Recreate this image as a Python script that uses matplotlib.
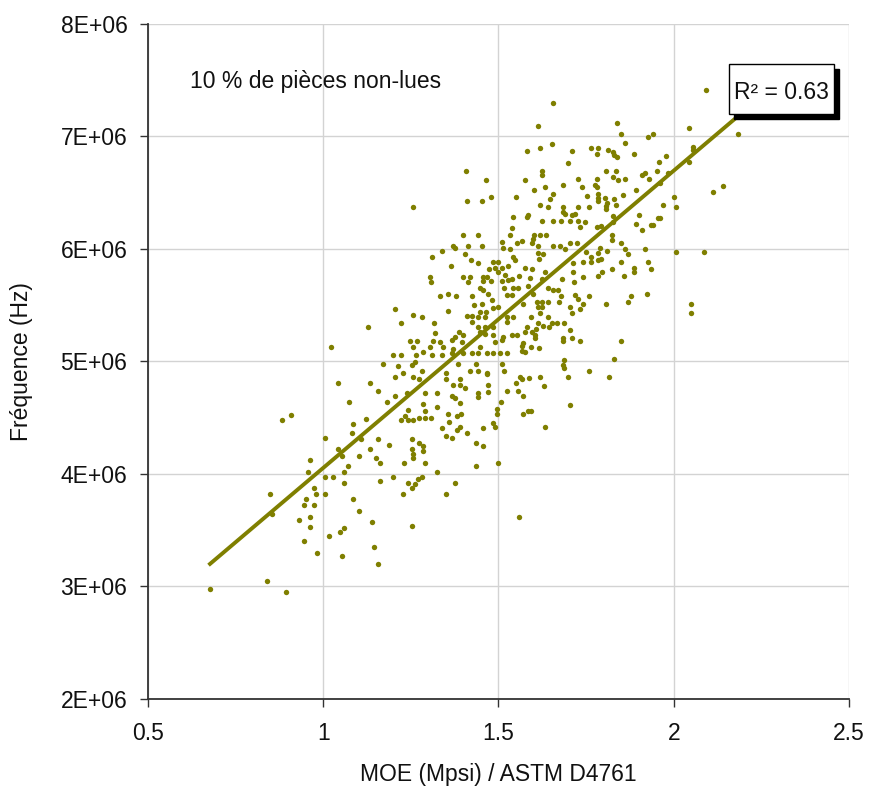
import matplotlib
matplotlib.use('Agg')
import matplotlib.pyplot as plt
from matplotlib.patches import Rectangle
from matplotlib.ticker import FuncFormatter, MultipleLocator
import numpy as np

plt.rcParams['font.family'] = ['Liberation Sans', 'DejaVu Sans']

# MOE (Mpsi)
moe = [
    # low end
    1.129, 1.021, 1.171, 1.043, 1.134, 1.155, 1.074, 1.182,
    0.881, 0.908, 1.123, 1.086, 1.081, 1.005, 1.155, 1.188,
    1.108, 1.043, 1.133, 1.053, 1.102, 1.150, 1.162, 0.962,
    1.070, 0.956, 1.058, 1.005, 1.027, 1.058, 1.162, 0.849,
    0.974, 0.979, 1.005, 0.951, 1.085, 0.853, 0.946, 0.974,
    1.102, 0.962, 0.930, 1.139, 0.962, 1.059, 1.048, 1.016,
    0.946, 1.145, 0.983, 1.053, 1.156, 0.677, 0.839, 0.893,
    # middle, upper half
    1.257, 1.464, 1.576, 1.409, 1.452, 1.479, 1.549, 1.542,
    1.580, 1.538, 1.398, 1.441, 1.533, 1.511, 1.552, 1.566,
    1.339, 1.369, 1.376, 1.414, 1.452, 1.514, 1.533, 1.311,
    1.404, 1.421, 1.441, 1.483, 1.500, 1.542, 1.547, 1.364,
    1.490, 1.509, 1.528, 1.576, 1.473, 1.500, 1.519, 1.305,
    1.398, 1.419, 1.456, 1.466, 1.559, 1.307, 1.414, 1.456,
    1.479, 1.509, 1.528, 1.538, 1.447, 1.456, 1.516, 1.540,
    1.557, 1.583, 1.333, 1.357, 1.379, 1.424, 1.469, 1.523,
    1.538, 1.481, 1.431, 1.452, 1.500, 1.571, 1.204, 1.357,
    1.447, 1.464, 1.485, 1.257, 1.281, 1.411, 1.424, 1.442,
    1.462, 1.523, 1.542, 1.221, 1.317, 1.424, 1.523, 1.442,
    1.462, 1.485, 1.580, 1.319, 1.387, 1.376, 1.400, 1.447,
    1.462, 1.485, 1.514, 1.538, 1.552, 1.576, 1.247, 1.268,
    1.314, 1.333, 1.366, 1.395, 1.490, 1.509, 1.571, 1.257,
    1.305, 1.343, 1.371, 1.447, 1.200, 1.221, 1.265, 1.285,
    1.309, 1.338, 1.366, 1.400, 1.424, 1.442, 1.466, 1.485,
    1.504, 1.523, 1.566, 1.214, 1.252, 1.262, 1.385, 1.436,
    1.509, 1.228, 1.281, 1.350, 1.419, 1.442, 1.468, 1.516,
    1.561, 1.407,
    # middle, lower half
    1.205, 1.257, 1.274, 1.350, 1.390, 1.468, 1.371, 1.390,
    1.404, 1.471, 1.550, 1.566, 1.205, 1.238, 1.290, 1.324,
    1.366, 1.376, 1.441, 1.441, 1.471, 1.523, 1.557, 1.571,
    1.285, 1.290, 1.390, 1.506, 1.324, 1.243, 1.495, 1.233,
    1.221, 1.243, 1.257, 1.274, 1.290, 1.307, 1.357, 1.382,
    1.393, 1.495, 1.571, 1.585, 1.360, 1.485, 1.490, 1.390,
    1.338, 1.456, 1.382, 1.409, 1.350, 1.366, 1.252, 1.274,
    1.285, 1.436, 1.456, 1.252, 1.285, 1.257, 1.257, 1.230,
    1.290, 1.436, 1.500, 1.324, 1.200, 1.281, 1.271, 1.243,
    1.262, 1.376, 1.252, 1.227, 1.350, 1.559, 1.252,
    # upper right
    1.656, 1.614, 1.839, 1.850, 1.926, 1.942, 1.861, 1.580,
    1.618, 1.652, 1.711, 1.764, 1.785, 1.813, 1.826, 1.780,
    1.830, 1.839, 1.888, 1.978, 1.959, 1.699, 1.625, 1.625,
    1.807, 1.834, 1.918, 1.909, 1.951, 1.827, 1.728, 1.780,
    1.840, 1.861, 1.929, 1.683, 1.775, 1.782, 1.634, 1.737,
    1.602, 1.656, 1.785, 1.892, 1.854, 1.753, 1.647, 1.785,
    1.804, 1.830, 1.811, 1.785, 1.618, 1.807, 1.835, 1.968,
    1.640, 1.683, 1.726, 1.758, 1.807, 1.683, 1.718, 1.690,
    1.710, 1.585, 1.902, 1.827, 1.623, 1.656, 1.678, 1.704,
    1.728, 1.956, 1.747, 1.827, 1.892, 1.934, 1.942, 1.733,
    1.792, 1.782, 1.909, 1.602, 1.618, 1.636, 1.823, 1.599,
    1.823, 1.597, 1.704, 1.723, 1.850, 1.614, 1.656, 1.675,
    1.690, 1.790, 1.861, 1.918, 1.614, 1.628, 1.751, 1.785,
    1.809, 1.870, 1.616, 1.764, 1.792, 1.713, 1.742, 1.764,
    1.783, 1.850, 1.926, 1.597, 1.823, 1.888, 1.935, 1.633,
    1.713, 1.794, 1.888, 1.859,
    # lower right
    1.742, 1.785, 1.680, 1.715, 1.590, 1.623, 1.642, 1.656,
    1.671, 1.599, 1.678, 1.718, 1.728, 1.758, 1.877, 1.925,
    1.674, 1.642, 1.609, 1.623, 1.742, 1.807, 1.870, 1.614,
    1.623, 1.704, 1.733, 1.618, 1.711, 1.592, 1.640, 1.614,
    1.652, 1.666, 1.688, 1.626, 1.645, 1.607, 1.595, 1.704,
    1.604, 1.604, 1.685, 1.711, 1.683, 1.733, 1.850, 1.566,
    1.592, 1.616, 1.576, 1.688, 1.685, 1.688, 1.830, 1.758,
    1.587, 1.618, 1.699, 1.816, 1.630, 1.704, 1.592, 1.634,
    # far right
    2.092, 2.044, 2.182, 2.054, 2.054, 2.044, 1.985, 1.961,
    2.113, 2.140, 2.001, 2.006, 1.961, 2.006, 2.086, 2.049,
    2.049,
]

# Fréquence, in millions of Hz, same order as moe
freq_m = [
    5.30, 5.13, 4.98, 4.81, 4.81, 4.74, 4.64, 4.64,
    4.48, 4.52, 4.49, 4.44, 4.36, 4.32, 4.31, 4.26,
    4.31, 4.22, 4.22, 4.16, 4.16, 4.14, 4.10, 4.12,
    4.07, 4.02, 4.02, 3.97, 3.97, 3.92, 3.94, 3.82,
    3.87, 3.82, 3.82, 3.78, 3.78, 3.64, 3.72, 3.72,
    3.67, 3.62, 3.59, 3.57, 3.53, 3.52, 3.48, 3.45,
    3.40, 3.35, 3.30, 3.27, 3.20, 2.98, 3.05, 2.95,
    6.37, 6.61, 6.61, 6.42, 6.42, 6.46, 6.46, 6.28,
    6.28, 6.18, 6.12, 6.12, 6.12, 6.06, 6.05, 6.07,
    5.98, 6.02, 6.01, 6.02, 6.02, 6.01, 6.00, 5.93,
    5.95, 5.90, 5.87, 5.88, 5.88, 5.93, 5.90, 5.85,
    5.83, 5.83, 5.85, 5.83, 5.82, 5.79, 5.77, 5.75,
    5.75, 5.75, 5.75, 5.75, 5.76, 5.70, 5.70, 5.71,
    5.71, 5.71, 5.72, 5.73, 5.65, 5.63, 5.65, 5.65,
    5.65, 5.67, 5.58, 5.60, 5.58, 5.58, 5.60, 5.59,
    5.59, 5.54, 5.50, 5.51, 5.48, 5.51, 5.46, 5.45,
    5.44, 5.44, 5.47, 5.41, 5.39, 5.40, 5.40, 5.39,
    5.39, 5.39, 5.39, 5.34, 5.34, 5.35, 5.35, 5.30,
    5.30, 5.30, 5.30, 5.25, 5.26, 5.22, 5.23, 5.26,
    5.24, 5.23, 5.22, 5.23, 5.23, 5.26, 5.18, 5.18,
    5.18, 5.17, 5.19, 5.17, 5.17, 5.19, 5.16, 5.13,
    5.13, 5.13, 5.11, 5.13, 5.06, 5.06, 5.06, 5.08,
    5.06, 5.06, 5.07, 5.07, 5.07, 5.07, 5.07, 5.07,
    5.07, 5.07, 5.09, 4.96, 4.97, 4.99, 4.98, 4.98,
    4.98, 4.90, 4.91, 4.90, 4.91, 4.91, 4.90, 4.91,
    4.86, 6.69,
    4.86, 4.86, 4.84, 4.84, 4.84, 4.89, 4.79, 4.79,
    4.76, 4.79, 4.81, 4.84, 4.69, 4.72, 4.72, 4.72,
    4.69, 4.67, 4.72, 4.68, 4.73, 4.74, 4.74, 4.69,
    4.62, 4.56, 4.63, 4.64, 4.59, 4.57, 4.58, 4.51,
    4.48, 4.48, 4.48, 4.50, 4.50, 4.50, 4.53, 4.51,
    4.53, 4.53, 4.53, 4.56, 4.46, 4.45, 4.42, 4.42,
    4.41, 4.41, 4.39, 4.36, 4.34, 4.32, 4.31, 4.27,
    4.25, 4.27, 4.25, 4.22, 4.20, 4.18, 4.14, 4.10,
    4.10, 4.07, 4.10, 4.02, 3.97, 3.97, 3.95, 3.92,
    3.91, 3.92, 3.87, 3.82, 3.82, 3.62, 3.54,
    7.29, 7.09, 7.12, 7.02, 6.99, 7.02, 6.94, 6.87,
    6.89, 6.93, 6.87, 6.89, 6.89, 6.88, 6.86, 6.84,
    6.83, 6.81, 6.84, 6.82, 6.77, 6.76, 6.69, 6.65,
    6.69, 6.69, 6.67, 6.65, 6.69, 6.64, 6.62, 6.62,
    6.61, 6.62, 6.62, 6.57, 6.57, 6.55, 6.55, 6.55,
    6.52, 6.49, 6.49, 6.52, 6.48, 6.47, 6.44, 6.45,
    6.45, 6.44, 6.41, 6.42, 6.39, 6.38, 6.39, 6.39,
    6.37, 6.37, 6.37, 6.37, 6.35, 6.33, 6.31, 6.31,
    6.30, 6.30, 6.30, 6.29, 6.25, 6.25, 6.25, 6.25,
    6.25, 6.27, 6.24, 6.24, 6.22, 6.21, 6.21, 6.19,
    6.20, 6.19, 6.17, 6.12, 6.12, 6.12, 6.12, 6.09,
    6.08, 6.05, 6.05, 6.05, 6.05, 6.02, 6.02, 6.02,
    6.00, 6.01, 6.00, 6.00, 5.96, 5.95, 5.97, 5.96,
    5.98, 5.95, 5.91, 5.93, 5.91, 5.87, 5.88, 5.88,
    5.90, 5.88, 5.88, 5.82, 5.82, 5.83, 5.82, 5.79,
    5.79, 5.79, 5.79, 5.76,
    5.75, 5.76, 5.73, 5.70, 5.74, 5.73, 5.65, 5.63,
    5.63, 5.60, 5.58, 5.59, 5.55, 5.58, 5.58, 5.60,
    5.53, 5.53, 5.53, 5.53, 5.51, 5.51, 5.53, 5.48,
    5.48, 5.48, 5.46, 5.43, 5.43, 5.39, 5.39, 5.34,
    5.34, 5.34, 5.34, 5.31, 5.30, 5.29, 5.26, 5.28,
    5.23, 5.21, 5.21, 5.21, 5.18, 5.18, 5.18, 5.14,
    5.13, 5.12, 5.08, 5.01, 4.97, 4.94, 5.02, 4.91,
    4.85, 4.86, 4.86, 4.86, 4.78, 4.61, 4.56, 4.42,
    7.41, 7.07, 7.02, 6.90, 6.88, 6.77, 6.67, 6.58,
    6.50, 6.56, 6.46, 6.37, 6.27, 5.97, 5.97, 5.51,
    5.43,
]

# linear trend (Hz per Mpsi, Hz)
trend_slope = 2.64e6
trend_intercept = 1.413e6
r2_text = 'R² = 0.63'
note_text = '10 % de pièces non-lues'

olive = '#7f7f00'

x = np.array(moe)
y = np.array(freq_m) * 1e6

fig = plt.figure(figsize=(8.84, 7.94), dpi=100)
ax = fig.add_axes([0.1674, 0.1196, 0.7930, 0.8508])

ax.scatter(x, y, s=15, color=olive, linewidths=0, zorder=3)

xl = np.array([x.min(), x.max()])
ax.plot(xl, trend_slope * xl + trend_intercept, color=olive, lw=2.8, zorder=4)

ax.set_xlim(0.5, 2.5)
ax.set_ylim(2e6, 8e6)
ax.xaxis.set_major_locator(MultipleLocator(0.5))
ax.yaxis.set_major_locator(MultipleLocator(1e6))
ax.xaxis.set_major_formatter(FuncFormatter(lambda v, p: '%g' % v))
ax.yaxis.set_major_formatter(FuncFormatter(lambda v, p: '%.0E' % v))

ax.grid(color='#d3d3d3', lw=1.0)
ax.set_axisbelow(True)
for s in ['top', 'right']:
    ax.spines[s].set_visible(False)
for s in ['left', 'bottom']:
    ax.spines[s].set_color('#333333')
    ax.spines[s].set_linewidth(1.3)
ax.tick_params(direction='out', length=5.8, width=1.0, color='#333333',
               labelsize=16.5, labelcolor='#111111')
ax.tick_params(axis='x', pad=11)
ax.tick_params(axis='y', pad=9)

fig.text(498 / 884, 1 - 775 / 794, 'MOE (Mpsi) / ASTM D4761', ha='center',
         va='center', fontsize=16.5, color='#111111')
fig.text(22 / 884, 1 - 362 / 794, 'Fréquence (Hz)', ha='center', va='center',
         rotation=90, fontsize=16.5, color='#111111')

ax.text(0.060, 0.9045, note_text, transform=ax.transAxes, va='baseline',
        fontsize=16.5, color='#111111')

# R² box with drop shadow
ax.add_patch(Rectangle((0.8288 + 0.0071, 0.8660 - 0.0074), 0.1498, 0.0740,
                       transform=ax.transAxes, facecolor='black',
                       edgecolor='black', clip_on=False, zorder=5))
ax.add_patch(Rectangle((0.8288, 0.8660), 0.1498, 0.0740,
                       transform=ax.transAxes, facecolor='white',
                       edgecolor='black', lw=1.0, clip_on=False, zorder=6))
ax.text(0.903, 0.888, r2_text, transform=ax.transAxes, ha='center',
        va='baseline', fontsize=16.5, color='#111111', zorder=7)

fig.savefig('out.png', dpi=100)
